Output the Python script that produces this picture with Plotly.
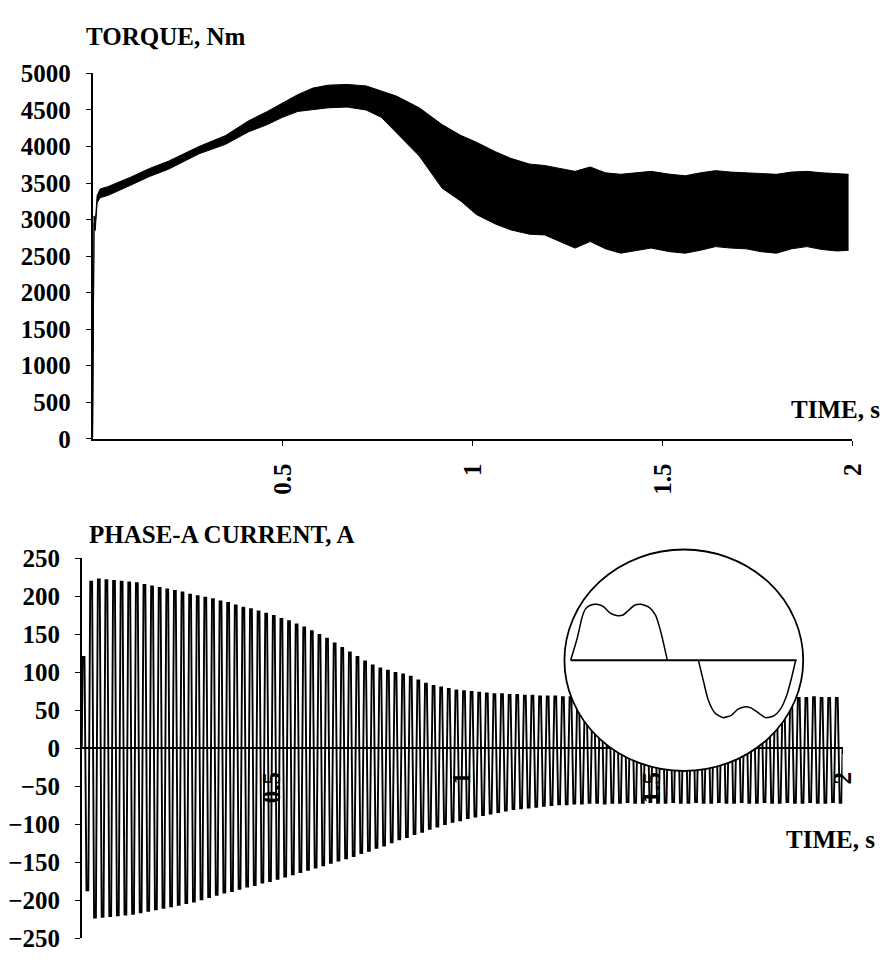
import numpy as np
import plotly.graph_objects as go

# ---------------- data ----------------
# Torque (Nm): envelope of the dense ripple band
torque_t = [0, 0.004, 0.007, 0.012, 0.02, 0.04, 0.1, 0.15, 0.2, 0.28,
            0.35, 0.41, 0.46, 0.5, 0.54, 0.58, 0.62, 0.67, 0.72, 0.76,
            0.8, 0.86, 0.92, 0.97, 1.01, 1.06, 1.1, 1.15, 1.19, 1.23,
            1.27, 1.31, 1.35, 1.39, 1.43, 1.47, 1.52, 1.56, 1.6, 1.64,
            1.68, 1.72, 1.76, 1.8, 1.84, 1.88, 1.92, 1.96, 1.99]
torque_upper = [0, 3050, 2950, 3330, 3420, 3450, 3580, 3700, 3800, 4000,
                4150, 4350, 4480, 4600, 4710, 4800, 4840, 4850, 4830, 4760,
                4690, 4530, 4300, 4150, 4060, 3930, 3840, 3760, 3740, 3700,
                3660, 3720, 3640, 3620, 3640, 3660, 3620, 3600, 3640, 3670,
                3650, 3640, 3620, 3620, 3650, 3660, 3640, 3630, 3620]
torque_lower = [0, 2950, 2850, 3230, 3300, 3330, 3470, 3590, 3690, 3900,
                4030, 4200, 4300, 4400, 4480, 4510, 4530, 4540, 4500, 4400,
                4190, 3870, 3430, 3250, 3070, 2940, 2860, 2800, 2790, 2700,
                2610, 2700, 2600, 2540, 2580, 2610, 2560, 2540, 2580, 2630,
                2610, 2600, 2560, 2540, 2600, 2630, 2590, 2570, 2580]

# Phase-A current (A): positive and negative peak of each 50 Hz cycle
cycle_period = 0.02
current_pos_peak = [120, 219, 222, 221, 220, 219, 218, 217, 215, 213,
                    211, 209, 207, 205, 202, 200, 198, 196, 193, 191,
                    188, 185, 183, 180, 177, 174, 170, 167, 163, 159,
                    154, 149, 144, 138, 132, 126, 120, 114, 109, 105,
                    102, 99, 97, 94, 89, 85, 82, 80, 78, 76,
                    75, 74, 73, 72, 71, 71, 70, 70, 69, 69,
                    68, 68, 68, 67, 67, 67, 66, 67, 68, 67,
                    66, 66, 67, 67, 66, 66, 67, 66, 66, 67,
                    67, 66, 66, 66, 67, 66, 66, 67, 66, 66,
                    67, 66, 66, 67, 66, 66, 67, 66, 66, 66]
current_neg_peak = [-187, -223, -222, -221, -220, -219, -218, -216, -214, -212,
                    -210, -208, -206, -204, -202, -199, -196, -193, -190, -188,
                    -185, -182, -180, -177, -175, -172, -169, -166, -163, -160,
                    -157, -154, -151, -148, -145, -142, -138, -135, -131, -128,
                    -124, -120, -117, -113, -110, -106, -103, -100, -97, -95,
                    -92, -90, -88, -86, -84, -82, -80, -79, -78, -77,
                    -76, -75, -74, -74, -73, -73, -72, -72, -73, -72,
                    -72, -71, -72, -72, -71, -72, -72, -71, -72, -72,
                    -71, -72, -72, -71, -72, -72, -71, -72, -72, -71,
                    -72, -72, -71, -72, -72, -71, -72, -72, -71, -72]

# Inset: one steady-state cycle of the current (normalised units)
inset_pos_x = [-0.948, -0.893, -0.852, -0.825, -0.783, -0.728, -0.673, -0.619, -0.564,
               -0.509, -0.467, -0.413, -0.358, -0.290, -0.235, -0.193, -0.138]
inset_pos_y = [0.0, 0.199, 0.389, 0.462, 0.497, 0.506, 0.485, 0.427, 0.404,
               0.409, 0.447, 0.497, 0.506, 0.477, 0.404, 0.257, 0.0]
inset_neg_x = [0.122, 0.163, 0.204, 0.259, 0.328, 0.397, 0.451, 0.506, 0.561,
               0.616, 0.685, 0.753, 0.808, 0.863, 0.904, 0.937]
inset_neg_y = [0.0, -0.181, -0.357, -0.474, -0.518, -0.497, -0.444, -0.421, -0.430,
               -0.468, -0.518, -0.503, -0.444, -0.313, -0.152, 0.0]
inset_axis_x = [-0.948, 0.945]
inset_axis_y = [0.0, 0.0]

torque_ticks = list(range(0, 5001, 500))
current_ticks = list(range(-250, 251, 50))
time_ticks = [0.5, 1, 1.5, 2]
time_ticktext = ["0.5", "1", "1.5", "2"]

# ---------------- figure ----------------
# the page body adds an 8 px margin, so the figure is sized to fit the window exactly
OFF = 8
W, H = 896 - 2 * OFF, 964 - 2 * OFF
def px(x):
    return (x - OFF) / W
def py(y):
    return 1 - (y - OFF) / H

FONT = "Liberation Serif"
FS = 25
TFONT = dict(family=FONT, size=FS, color="black", weight="bold")

# current waveform: each cycle drawn as a positive and a negative half wave
cx, cy = [], []
for k, (p, n) in enumerate(zip(current_pos_peak, current_neg_peak)):
    t0 = k * cycle_period
    cx += [t0, t0 + 0.12 * cycle_period, t0 + 0.36 * cycle_period, t0 + 0.5 * cycle_period,
           t0 + 0.62 * cycle_period, t0 + 0.86 * cycle_period]
    cy += [0, p, p, 0, n, n]
cx.append(len(current_pos_peak) * cycle_period)
cy.append(0)

fig = go.Figure()
fig.add_trace(go.Scatter(x=torque_t, y=torque_lower, mode="lines",
                         line=dict(color="black", width=1), xaxis="x", yaxis="y",
                         hoverinfo="skip"))
fig.add_trace(go.Scatter(x=torque_t, y=torque_upper, mode="lines", fill="tonexty",
                         fillcolor="black", line=dict(color="black", width=1),
                         xaxis="x", yaxis="y", hoverinfo="skip"))
fig.add_trace(go.Scatter(x=cx, y=cy, mode="lines", line=dict(color="black", width=1.9),
                         xaxis="x2", yaxis="y2", hoverinfo="skip"))
fig.add_trace(go.Scatter(x=inset_axis_x, y=inset_axis_y, mode="lines",
                         line=dict(color="black", width=1.8), xaxis="x3", yaxis="y3"))
fig.add_trace(go.Scatter(x=inset_pos_x, y=inset_pos_y, mode="lines",
                         line=dict(color="black", width=1.5, shape="spline", smoothing=0.6),
                         xaxis="x3", yaxis="y3"))
fig.add_trace(go.Scatter(x=inset_neg_x, y=inset_neg_y, mode="lines",
                         line=dict(color="black", width=1.5, shape="spline", smoothing=0.6),
                         xaxis="x3", yaxis="y3"))

axis_common = dict(showline=True, linecolor="black", linewidth=1.6, showgrid=False,
                   zeroline=False, ticks="outside", ticklen=5, tickwidth=1.3,
                   tickcolor="black", tickfont=TFONT)

y2_dom = [py(952), py(561)]
fig.update_layout(
    width=W, height=H, margin=dict(l=0, r=0, t=0, b=0),
    paper_bgcolor="white", plot_bgcolor="rgba(0,0,0,0)", showlegend=False,
    font=dict(family=FONT, size=FS, color="black"),
    xaxis=dict(domain=[px(92), px(865)], range=[0, 2], anchor="y",
               tickvals=time_ticks, ticktext=time_ticktext, tickangle=-90,
               ticklabelstandoff=8, **axis_common),
    yaxis=dict(domain=[py(438), py(62)], range=[0, 5000], anchor="x",
               tickvals=torque_ticks, ticklabelstandoff=10, **axis_common),
    xaxis2=dict(domain=[px(81), px(855)], range=[0, 2], anchor="free",
                position=(y2_dom[0] + y2_dom[1]) / 2,
                tickvals=time_ticks, ticktext=time_ticktext, tickangle=-90,
                ticklabelstandoff=8, **axis_common),
    yaxis2=dict(domain=y2_dom, range=[-250, 250], anchor="x2",
                tickvals=current_ticks, ticklabelstandoff=10, **axis_common),
    xaxis3=dict(domain=[px(693.5 - 125.1), px(693.5 + 125.1)], range=[-1.03, 1.03],
                anchor="y3", visible=False),
    yaxis3=dict(domain=[py(666 + 117.4), py(666 - 117.4)], range=[-1.03, 1.03],
                anchor="x3", visible=False),
)

fig.add_shape(type="circle", xref="x3", yref="y3", x0=-1, x1=1, y0=-1, y1=1,
              fillcolor="white", line=dict(color="black", width=1.8), layer="below")

def label(text, x, y, xanchor="left"):
    fig.add_annotation(text=text, x=px(x), y=py(y), xref="paper", yref="paper",
                       xanchor=xanchor, yanchor="middle", showarrow=False,
                       font=TFONT)

label("TORQUE, Nm", 83, 24)
label("TIME, s", 801, 408)
label("PHASE-A CURRENT, A", 86, 537)
label("TIME, s", 795, 850)

fig.write_html("out.html")
